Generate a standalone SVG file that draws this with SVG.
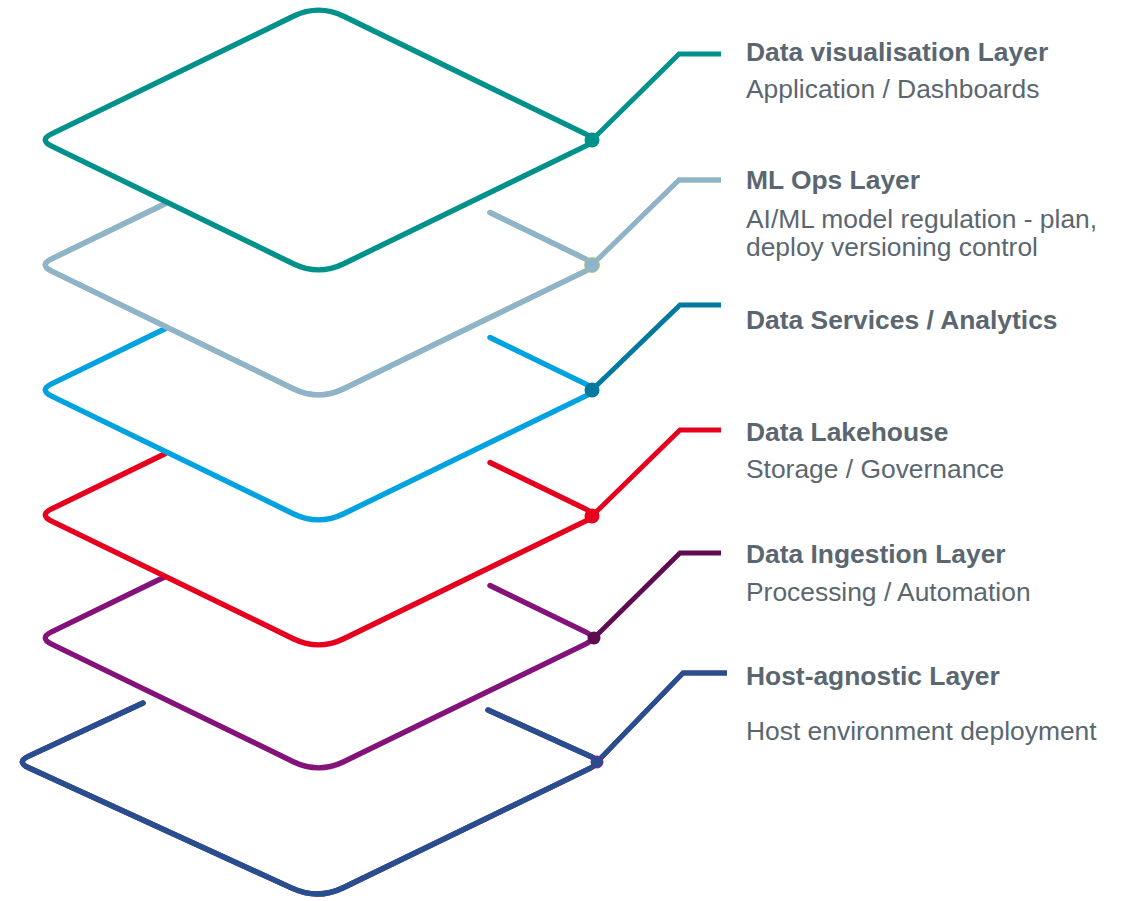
<svg xmlns="http://www.w3.org/2000/svg" width="1127" height="901" viewBox="0 0 1127 901">
<style>
  .ln{fill:none;stroke-width:5.4;stroke-linecap:round;stroke-linejoin:round}
  .cn{fill:none;stroke-width:4.8;stroke-linejoin:miter}
  .t{font-family:"Liberation Sans",Arial,sans-serif;font-size:26.4px;font-weight:bold;fill:#5B6770}
  .s{font-family:"Liberation Sans",Arial,sans-serif;font-size:26.4px;fill:#5B6770}
</style>
<rect width="1127" height="901" fill="#ffffff"/>

<g id="host-agnostic">
  <path class="ln" stroke="#7F1F7F" stroke-width="6.8" d="M143,703 L28.7,756.1 Q16,762 28.7,767.8 L292.5,888.4 Q318,900 343.2,887.8 L590.4,768.1 Q603,762 590.25,756.2 L488,710"/>
  <path class="ln" stroke="#274F8F" stroke-width="5.2" d="M143,703 L28.7,756.1 Q16,762 28.7,767.8 L292.5,888.4 Q318,900 343.2,887.8 L590.4,768.1 Q603,762 590.25,756.2 L488,710"/>
</g>

<g id="data-ingestion">
  <path class="ln" stroke="#83137A" d="M165,576.7 L51.6,631.9 Q39,638 51.6,644.1 L293.3,761.75 Q318.5,774 343.7,761.75 L585.4,644.1 Q598,638 585.4,631.9 L490,585.5"/>
</g>

<g id="data-lakehouse">
  <path class="ln" stroke="#E6001E" d="M165,453.7 L51.6,508.9 Q39,515 51.6,521.1 L293.3,638.75 Q318.5,651 343.7,638.75 L585.4,521.1 Q598,515 585.4,508.9 L490,462.5"/>
</g>

<g id="data-services">
  <path class="ln" stroke="#00A3E0" d="M165,328.7 L51.6,383.9 Q39,390 51.6,396.1 L293.3,513.75 Q318.5,526 343.7,513.75 L585.4,396.1 Q598,390 585.4,383.9 L490,337.5"/>
</g>

<g id="ml-ops">
  <path class="ln" stroke="#B6D16A" stroke-width="6.8" d="M165,203.7 L51.6,258.9 Q39,265 51.6,271.1 L293.3,388.75 Q318.5,401 343.7,388.75 L585.4,271.1 Q598,265 585.4,258.9 L490,212.5"/>
  <path class="ln" stroke="#8EB3CB" stroke-width="5.1" d="M165,203.7 L51.6,258.9 Q39,265 51.6,271.1 L293.3,388.75 Q318.5,401 343.7,388.75 L585.4,271.1 Q598,265 585.4,258.9 L490,212.5"/>
</g>

<g id="data-visualisation">
  <path class="ln" stroke="#00918A" d="M293.3,16.25 Q318.5,4 343.7,16.25 L585.4,133.9 Q598,140 585.4,146.1 L343.7,263.75 Q318.5,276 293.3,263.75 L51.6,146.1 Q39,140 51.6,133.9 Z"/>
</g>

<g id="connectors">
  <path class="cn" stroke="#00918A" d="M592,140 L679,54 L721,54"/>
  <circle cx="592" cy="140" r="7.5" fill="#00918A"/>

  <path class="cn" stroke="#B6D16A" stroke-width="6.2" d="M592,265 L679,180 L721,180"/>
  <path class="cn" stroke="#8EB3CB" stroke-width="4.8" d="M592,265 L679,180 L721,180"/>
  <circle cx="592" cy="265" r="7.5" fill="#8EB3CB" stroke="#A9C85A" stroke-width="0.8"/>

  <path class="cn" stroke="#00789F" d="M592,390 L680,305 L721,305"/>
  <circle cx="592" cy="390" r="7.5" fill="#00789F"/>

  <path class="cn" stroke="#E6001E" d="M592,516 L680,430 L721,430"/>
  <circle cx="592" cy="516" r="7.5" fill="#E6001E"/>

  <path class="cn" stroke="#5E0B52" d="M594,638 L680,553 L721,553"/>
  <circle cx="594" cy="638" r="6.5" fill="#5E0B52"/>

  <path class="cn" stroke="#7F1F7F" stroke-width="6.2" d="M597,762 L683,673 L727,673"/>
  <path class="cn" stroke="#274F8F" stroke-width="4.8" d="M597,762 L683,673 L727,673"/>
  <circle cx="597" cy="762" r="6" fill="#274F8F" stroke="#7F1F7F" stroke-width="1"/>
</g>

<g id="labels">
  <text class="t" x="746" y="61">Data visualisation Layer</text>
  <text class="s" x="746" y="98">Application / Dashboards</text>

  <text class="t" x="746" y="189">ML Ops Layer</text>
  <text class="s" x="746" y="228">AI/ML model regulation - plan,</text>
  <text class="s" x="746" y="256">deploy versioning control</text>

  <text class="t" x="746" y="329">Data Services / Analytics</text>

  <text class="t" x="746" y="441">Data Lakehouse</text>
  <text class="s" x="746" y="478">Storage / Governance</text>

  <text class="t" x="746" y="563">Data Ingestion Layer</text>
  <text class="s" x="746" y="601">Processing / Automation</text>

  <text class="t" x="746" y="685">Host-agnostic Layer</text>
  <text class="s" x="746" y="740">Host environment deployment</text>
</g>
</svg>
